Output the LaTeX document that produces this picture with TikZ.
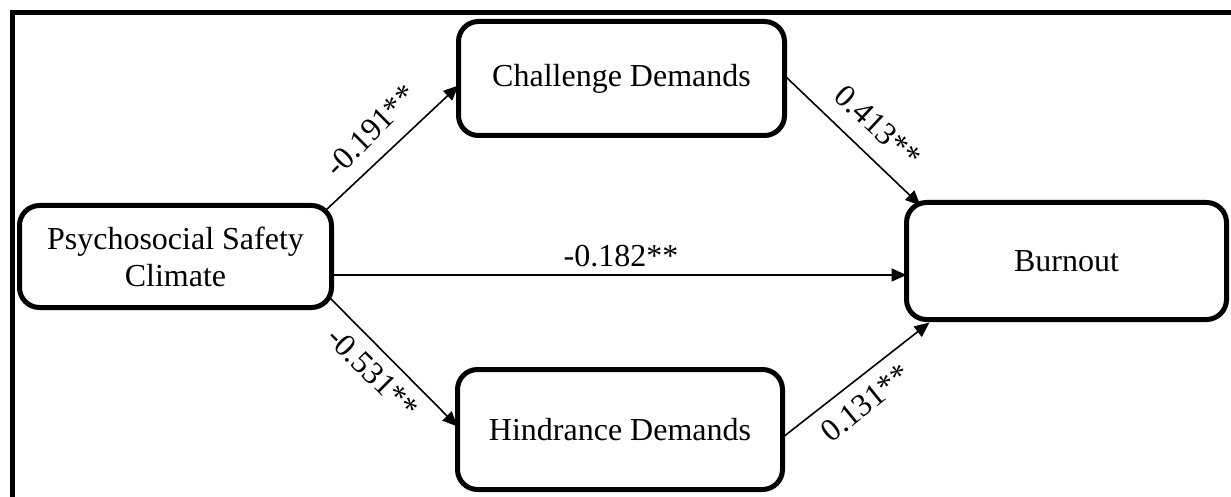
\documentclass[tikz,border=0pt]{standalone}
\usepackage{fontspec}
\setmainfont{Liberation Serif}
\usetikzlibrary{arrows.meta,calc}
\tikzset{
  box/.style={draw, line width=5pt, rounded corners=20pt, align=center,
    inner sep=0pt, outer sep=0pt, font=\fontsize{32}{37}\selectfont},
  conn/.style={line width=1.6pt, -{Triangle[length=15pt,width=13pt]}},
  lbl/.style={inner sep=1pt, font=\fontsize{32}{37}\selectfont},
  frameline/.style={line width=5pt, line join=miter}
}
\begin{document}
\begin{tikzpicture}[x=1pt,y=-1pt]
\useasboundingbox (0,0) rectangle (1231,497);
\fill[white] (0,0) rectangle (1231,497);
\draw[frameline] (12.5,497) -- (12.5,12.5) -- (1231,12.5);

\node[box, minimum width=312pt, minimum height=102pt] (psc) at (175.5,256.5) {Psychosocial Safety\\Climate};
\node[box, minimum width=326pt, minimum height=114pt] (chal) at (621.5,78.5) {Challenge Demands};
\node[box, minimum width=325pt, minimum height=120pt] (hind) at (620,429.5) {Hindrance Demands};
\node[box, minimum width=320pt, minimum height=117pt] (burn) at (1066.5,261) {Burnout};

\draw[conn] ($(psc.north east)+(-6,5)$) -- ($(chal.west)+(0,7)$);
\draw[conn] ($(chal.east)+(0,-3)$) -- ($(burn.north west)+(14,3)$);
\draw[conn] (psc.east |- 0,275) -- (burn.west |- 0,275);
\draw[conn] ($(psc.south east)+(-2,-10)$) -- ($(hind.west)+(0,-3)$);
\draw[conn] ($(hind.east)+(0,8)$) -- ($(burn.south west)+(23,3)$);

\node[lbl, rotate=45] (l1) at (370.7,130.7) {-0.191**};
\node[lbl, rotate=-43] (l2) at (878,126) {0.413**};
\node[lbl] (l3) at (621,256) {-0.182**};
\node[lbl, rotate=-45] (l4) at (373,372.7) {-0.531**};
\node[lbl, rotate=39] (l5) at (865.7,403) {0.131**};
\end{tikzpicture}
\end{document}
